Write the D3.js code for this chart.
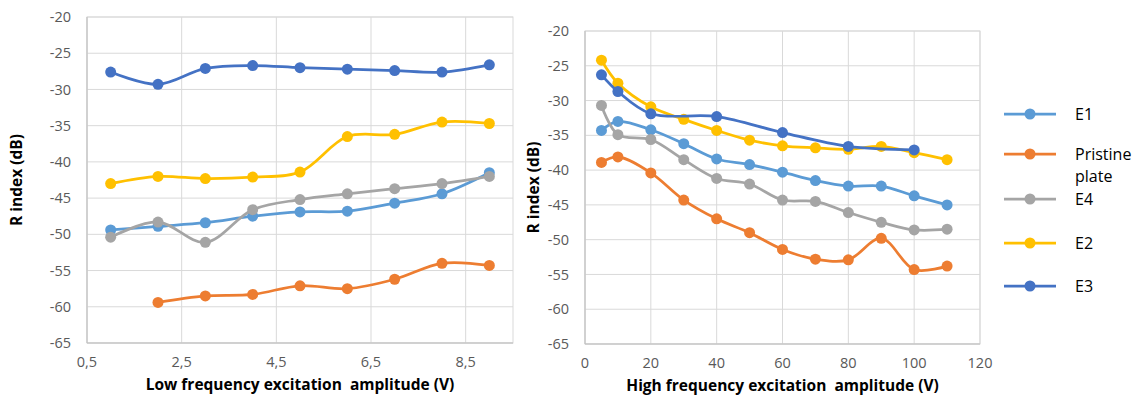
<!DOCTYPE html>
<html>
<head>
<meta charset="utf-8">
<script src="https://cdn.jsdelivr.net/npm/d3@7"></script>
<style>
  body { margin: 0; background: #fff; }
  svg text { font-family: "Open Sans", "Noto Sans", sans-serif; }
</style>
</head>
<body>
<div id="chart"></div>
<script>
// series order matches the legend (later series drawn on top)
const seriesNames = ["E1", "Pristine plate", "E4", "E2", "E3"];
const seriesColors = ["#5B9BD5", "#ED7D31", "#A5A5A5", "#FFC000", "#4472C4"];

// left chart: low frequency excitation amplitude (V)
const lowX = [1, 2, 3, 4, 5, 6, 7, 8, 9];
const lowE1 = [-49.4, -48.9, -48.4, -47.5, -46.9, -46.8, -45.7, -44.4, -41.5];
const lowPristine = [null, -59.4, -58.5, -58.3, -57.1, -57.5, -56.2, -54.0, -54.3];
const lowE4 = [-50.4, -48.3, -51.1, -46.6, -45.2, -44.4, -43.7, -43.0, -42.0];
const lowE2 = [-43.0, -42.0, -42.3, -42.1, -41.4, -36.5, -36.2, -34.5, -34.7];
const lowE3 = [-27.6, -29.3, -27.1, -26.7, -27.0, -27.2, -27.4, -27.6, -26.6];
const lowTicks = [0.5, 2.5, 4.5, 6.5, 8.5];

// right chart: high frequency excitation amplitude (V)
const highX = [5, 10, 20, 30, 40, 50, 60, 70, 80, 90, 100, 110];
const highE1 = [-34.3, -33.0, -34.2, -36.2, -38.4, -39.2, -40.3, -41.5, -42.3, -42.3, -43.7, -45.0];
const highPristine = [-38.9, -38.1, -40.4, -44.3, -47.0, -49.0, -51.4, -52.8, -52.9, -49.8, -54.3, -53.8];
const highE4 = [-30.7, -34.9, -35.6, -38.5, -41.2, -42.0, -44.3, -44.5, -46.1, -47.5, -48.6, -48.5];
const highE2 = [-24.2, -27.5, -30.9, -32.7, -34.3, -35.7, -36.5, -36.8, -37.0, -36.6, -37.5, -38.5];
const highE3 = [-26.3, -28.7, -31.9, null, -32.3, null, -34.6, null, -36.6, null, -37.1, null];
const highTicks = [0, 20, 40, 60, 80, 100, 120];

const yTicks = [-20, -25, -30, -35, -40, -45, -50, -55, -60, -65];

const W = 1137, H = 401;
const svg = d3.select("#chart").append("svg").attr("width", W).attr("height", H);

function drawPanel(cfg) {
  const x = d3.scaleLinear().domain(cfg.xDomain).range([cfg.left, cfg.right]);
  const y = d3.scaleLinear().domain([-65, -20]).range([cfg.bottom, cfg.top]);
  const g = svg.append("g");

  // gridlines
  g.selectAll("line.hgrid").data(yTicks).join("line")
    .attr("x1", cfg.left).attr("x2", cfg.right)
    .attr("y1", d => y(d)).attr("y2", d => y(d))
    .attr("stroke", "#D9D9D9").attr("stroke-width", 1);
  g.selectAll("line.vgrid").data(cfg.xTicks).join("line")
    .attr("x1", d => x(d)).attr("x2", d => x(d))
    .attr("y1", cfg.top).attr("y2", cfg.bottom)
    .attr("stroke", "#D9D9D9").attr("stroke-width", 1);
  g.append("rect")
    .attr("x", cfg.left).attr("y", cfg.top)
    .attr("width", cfg.right - cfg.left).attr("height", cfg.bottom - cfg.top)
    .attr("fill", "none").attr("stroke", "#D9D9D9");
  // axis lines
  g.append("line").attr("x1", cfg.left).attr("x2", cfg.left)
    .attr("y1", cfg.top).attr("y2", cfg.bottom).attr("stroke", "#BFBFBF");
  g.append("line").attr("x1", cfg.left).attr("x2", cfg.right)
    .attr("y1", cfg.bottom).attr("y2", cfg.bottom).attr("stroke", "#BFBFBF");

  // tick labels
  g.selectAll("text.ytick").data(yTicks).join("text")
    .attr("x", cfg.left - 16).attr("y", d => y(d)).attr("dy", "0.35em")
    .attr("text-anchor", "end").attr("font-size", 14.5).attr("fill", "#595959")
    .text(d => d);
  g.selectAll("text.xtick").data(cfg.xTicks).join("text")
    .attr("x", d => x(d)).attr("y", cfg.bottom + 24)
    .attr("text-anchor", "middle").attr("font-size", 14.5).attr("fill", "#595959")
    .text(d => String(d).replace(".", ","));

  // axis titles
  g.append("text")
    .attr("x", (cfg.left + cfg.right) / 2).attr("y", cfg.bottom + 47)
    .attr("text-anchor", "middle").attr("font-size", 15.5).attr("font-weight", "bold")
    .attr("fill", "#000").attr("xml:space", "preserve")
    .text(cfg.xTitle);
  g.append("text")
    .attr("transform", `translate(${cfg.yTitleX},${(cfg.top + cfg.bottom) / 2}) rotate(-90)`)
    .attr("text-anchor", "middle").attr("font-size", 15.5).attr("font-weight", "bold")
    .attr("fill", "#000")
    .text("R index (dB)");

  const line = d3.line()
    .defined(d => d.v != null)
    .x(d => x(d.x)).y(d => y(d.v))
    .curve(d3.curveCatmullRom.alpha(0.5));

  cfg.series.forEach((vals, i) => {
    const pts = cfg.xs.map((xv, j) => ({ x: xv, v: vals[j] })).filter(d => d.v != null);
    g.append("path").datum(pts)
      .attr("d", line)
      .attr("fill", "none").attr("stroke", seriesColors[i])
      .attr("stroke-width", 2.75).attr("stroke-linejoin", "round");
    g.selectAll(null).data(pts).join("circle")
      .attr("cx", d => x(d.x)).attr("cy", d => y(d.v))
      .attr("r", 5.5).attr("fill", seriesColors[i]);
  });
}

drawPanel({
  left: 87, right: 513, top: 17, bottom: 343,
  xDomain: [0.5, 9.5], xTicks: lowTicks, xs: lowX,
  series: [lowE1, lowPristine, lowE4, lowE2, lowE3],
  xTitle: "Low frequency excitation  amplitude (V)", yTitleX: 22
});

drawPanel({
  left: 585, right: 980, top: 31, bottom: 344,
  xDomain: [0, 120], xTicks: highTicks, xs: highX,
  series: [highE1, highPristine, highE4, highE2, highE3],
  xTitle: "High frequency excitation  amplitude (V)", yTitleX: 539
});

// legend
const legendY = [114, 154, 199, 243, 286];
const lg = svg.append("g");
seriesNames.forEach((name, i) => {
  const yy = legendY[i];
  lg.append("line").attr("x1", 1004).attr("x2", 1056)
    .attr("y1", yy).attr("y2", yy)
    .attr("stroke", seriesColors[i]).attr("stroke-width", 2.75);
  lg.append("circle").attr("cx", 1030).attr("cy", yy).attr("r", 5.5)
    .attr("fill", seriesColors[i]);
  const words = name === "Pristine plate" ? ["Pristine", "plate"] : [name];
  words.forEach((w, k) => {
    lg.append("text").attr("x", 1075).attr("y", yy + k * 22).attr("dy", "0.35em")
      .attr("font-size", 16).attr("fill", "#000").text(w);
  });
});
</script>
</body>
</html>
